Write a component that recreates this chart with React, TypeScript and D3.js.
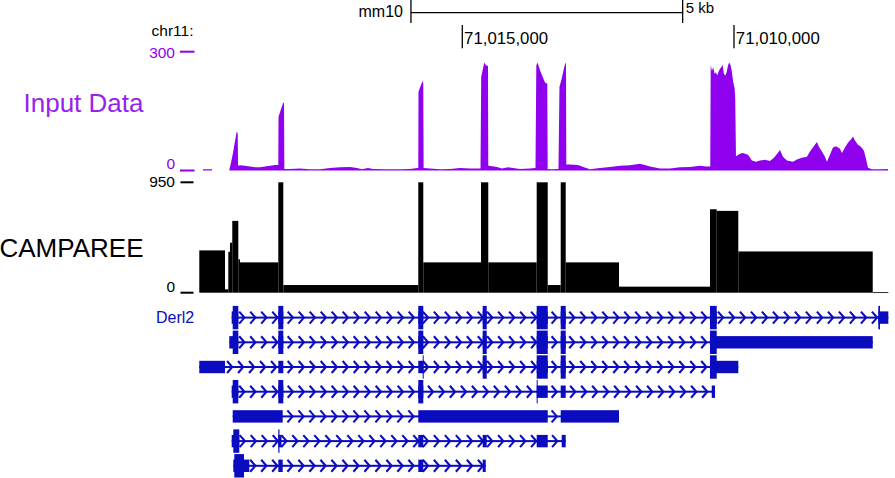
import React from "react";
import * as d3 from "d3";

// chr11 (mm10), displayed on the reverse strand: coordinates decrease left to right
const rulerTicks = [71015000, 71010000];
const scaleBar = { start: 71015945, length: 5000, label: "5 kb", assembly: "mm10" };

// Input Data coverage: [position, reads] (null = no data)
const inputCoverage: [number, number | null][] = [
  [71019771, 3], [71019606, 3], [71019500, null],
  [71019287, 2], [71019256, 20], [71019219, 45], [71019182, 75], [71019151, 98],
  [71019133, 95], [71019127, 12], [71019090, 13], [71018998, 12], [71018906, 10],
  [71018814, 8], [71018722, 8], [71018630, 10], [71018538, 12], [71018446, 14],
  [71018400, 14], [71018386, 14], [71018382, 136], [71018336, 155], [71018294, 172],
  [71018281, 170], [71018275, 4], [71018170, 4], [71017986, 5], [71017802, 3],
  [71017618, 3], [71017434, 6], [71017250, 8], [71017066, 9], [71016938, 6],
  [71016846, 3], [71016735, 6], [71016643, 4], [71016422, 3], [71016146, 3],
  [71015962, 4], [71015824, 6], [71015810, 6], [71015806, 199], [71015769, 213],
  [71015729, 226], [71015718, 220], [71015712, 6], [71015594, 5], [71015410, 3],
  [71015226, 4], [71015042, 6], [71014858, 5], [71014665, 5], [71014652, 236],
  [71014619, 258], [71014595, 273], [71014564, 266], [71014527, 264], [71014522, 12],
  [71014454, 11], [71014362, 9], [71014270, 5], [71014159, 8], [71014067, 6],
  [71013938, 4], [71013754, 5], [71013653, 6], [71013638, 265], [71013616, 273],
  [71013570, 253], [71013521, 236], [71013478, 222], [71013436, 219], [71013429, 4],
  [71013350, 3], [71013230, 4], [71013212, 211], [71013166, 235], [71013129, 258],
  [71013101, 273], [71013092, 268], [71013086, 15], [71013018, 15], [71012871, 14],
  [71012761, 8], [71012650, 3], [71012466, 6], [71012282, 9], [71012098, 12],
  [71011914, 13], [71011730, 17], [71011546, 10], [71011362, 5], [71011178, 5],
  [71010994, 8], [71010810, 9], [71010626, 12], [71010516, 10], [71010437, 10],
  [71010429, 267], [71010406, 252], [71010382, 261], [71010356, 244], [71010332, 248],
  [71010308, 240], [71010282, 250], [71010258, 257], [71010234, 261], [71010209, 267],
  [71010185, 244], [71010161, 240], [71010135, 248], [71010111, 265], [71010087, 273],
  [71010061, 265], [71010038, 248], [71010014, 223], [71009988, 207], [71009977, 180],
  [71009964, 36], [71009890, 42], [71009835, 44], [71009743, 40], [71009670, 25],
  [71009596, 22], [71009522, 25], [71009430, 27], [71009338, 24], [71009265, 32],
  [71009191, 45], [71009154, 52], [71009099, 35], [71009026, 25], [71008915, 22],
  [71008842, 28], [71008750, 32], [71008658, 35], [71008602, 48], [71008529, 62],
  [71008474, 72], [71008437, 60], [71008382, 48], [71008326, 35], [71008290, 22],
  [71008234, 40], [71008179, 58], [71008124, 61], [71008050, 55], [71008014, 44],
  [71007958, 58], [71007903, 70], [71007848, 78], [71007811, 86], [71007774, 76],
  [71007719, 65], [71007664, 60], [71007609, 50], [71007572, 30], [71007535, 7],
  [71007462, 3], [71007314, 3], [71007167, 4],
];

// CAMPAREE simulated coverage, bedGraph style: [from, to, reads]
const campareeCoverage: [number, number, number][] = [
  [71019840, 71019367, 364], [71019367, 71019306, 29], [71019306, 71019275, 352],
  [71019275, 71019233, 430], [71019233, 71019122, 618], [71019122, 71019091, 287],
  [71019091, 71018386, 261], [71018386, 71018294, 950], [71018294, 71015810, 66],
  [71015810, 71015718, 950], [71015718, 71014656, 261], [71014656, 71014522, 950],
  [71014522, 71013631, 261], [71013631, 71013428, 950], [71013428, 71013189, 66],
  [71013189, 71013097, 950], [71013097, 71012116, 261], [71012116, 71010442, 52],
  [71010442, 71010318, 718], [71010318, 71009921, 704], [71009921, 71007447, 355],
  [71007447, 71007160, 4],
];

// Derl2 transcripts: exons and coding (thick) range
type Transcript = { exons: [number, number][]; thick: [number, number] | null };
const transcripts: Transcript[] = [
  {
    exons: [[71019244, 71019122], [71018386, 71018294], [71015810, 71015718], [71014625, 71014551],
      [71013631, 71013428], [71013189, 71013097], [71010442, 71010318], [71007344, 71007160]],
    thick: [71019225, 71007313],
  },
  {
    exons: [[71019288, 71019122], [71018386, 71018294], [71015810, 71015718], [71014625, 71014551],
      [71013631, 71013428], [71013189, 71013097], [71010442, 71007447]],
    thick: [71019225, 71010318],
  },
  {
    exons: [[71019840, 71019367], [71018386, 71018294], [71015810, 71015718], [71014625, 71014551],
      [71013631, 71013428], [71013189, 71013097], [71010442, 71009921]],
    thick: [71015729, 71010318],
  },
  {
    exons: [[71019244, 71019122], [71018386, 71018294], [71015810, 71015718], [71013631, 71013428],
      [71013189, 71013097], [71010410, 71010350]],
    thick: [71019225, 71013616],
  },
  {
    exons: [[71019225, 71018305], [71015810, 71013428], [71013189, 71012116]],
    thick: null,
  },
  {
    exons: [[71019244, 71019104], [71018386, 71018327], [71015810, 71015718], [71014625, 71014551],
      [71013631, 71013428], [71013171, 71013097]],
    thick: [71019214, 71018364],
  },
  {
    exons: [[71019214, 71018920], [71018386, 71018305], [71015810, 71015718], [71014625, 71014569]],
    thick: [71019196, 71019017],
  },
];
const geneName = "Derl2";

const PURPLE = "#8f00ee";
const PURPLE_LABEL = "#9722f0";
const BLUE = "#0b0bbf";
const FONT = "'Liberation Sans', Arial, Helvetica, sans-serif";

export default function App() {
  const width = 895;
  const height = 478;

  const x = d3.scaleLinear().domain(rulerTicks).range([462.3, 734]);
  const yInput = d3.scaleLinear().domain([0, 300]).range([170.5, 51.7]);
  const yCamp = d3.scaleLinear().domain([0, 950]).range([292.7, 182.3]).clamp(true);
  const rowY = d3.scaleLinear().domain([0, transcripts.length - 1]).range([317.6, 465.8]);
  const fmt = d3.format(",");

  const inputArea = d3
    .area<[number, number | null]>()
    .defined((d) => d[1] !== null)
    .x((d) => x(d[0]))
    .y0(yInput(0))
    .y1((d) => yInput(d[1] as number))(inputCoverage) as string;

  const px = (a: number, b: number) => {
    const x1 = x(a), x2 = x(b);
    return [Math.min(x1, x2), Math.max(x1, x2)];
  };

  const thickH = 23.4;
  const thinH = 12.4;
  const barbPitch = 11;

  return (
    <svg
      width={width}
      height={height}
      style={{ position: "absolute", left: 0, top: 0, background: "#fff" }}
      fontFamily={FONT}
    >
      {/* scale bar */}
      <g stroke="#000" strokeWidth={1.3}>
        <line x1={x(scaleBar.start)} x2={x(scaleBar.start - scaleBar.length)} y1={12.6} y2={12.6} />
        <line x1={x(scaleBar.start)} x2={x(scaleBar.start)} y1={0} y2={23} />
        <line x1={x(scaleBar.start - scaleBar.length)} x2={x(scaleBar.start - scaleBar.length)} y1={0} y2={23} />
      </g>
      <text x={x(scaleBar.start) - 8} y={17.2} fontSize={16} textAnchor="end">{scaleBar.assembly}</text>
      <text x={x(scaleBar.start - scaleBar.length) + 3} y={12.7} fontSize={15}>{scaleBar.label}</text>

      {/* ruler */}
      <text x={193.5} y={36} fontSize={15.5} textAnchor="end">chr11:</text>
      {rulerTicks.map((t) => (
        <g key={t}>
          <line x1={x(t)} x2={x(t)} y1={25} y2={48.3} stroke="#000" strokeWidth={1.3} />
          <text x={x(t) + 1.8} y={44.3} fontSize={16.8}>{fmt(t)}</text>
        </g>
      ))}

      {/* Input Data track */}
      <text x={143.5} y={112.3} fontSize={26} textAnchor="end" fill={PURPLE_LABEL}>Input Data</text>
      {[300, 0].map((v) => (
        <g key={v} fill={PURPLE}>
          <text x={175} y={v === 0 ? 169.3 : 57.8} fontSize={15.5} textAnchor="end">{v}</text>
          <rect x={180} y={yInput(v) - 1} width={14.5} height={2} />
        </g>
      ))}
      <path d={inputArea} fill={PURPLE} />

      {/* CAMPAREE track */}
      <text x={143.5} y={257.3} fontSize={26} textAnchor="end">CAMPAREE</text>
      {[950, 0].map((v) => (
        <g key={v}>
          <text x={175} y={v === 0 ? 291.7 : 187.4} fontSize={15.5} textAnchor="end">{v}</text>
          <rect x={180.5} y={yCamp(v) - 1} width={13} height={2} />
        </g>
      ))}
      {campareeCoverage.map(([s, e, v], i) => {
        const [x1, x2] = px(s, e);
        return <rect key={i} x={x1} width={x2 - x1} y={yCamp(v)} height={Math.max(0.8, yCamp(0) - yCamp(v))} fill="#000" />;
      })}

      {/* gene track */}
      <text x={156} y={322.7} fontSize={16} fill={BLUE}>{geneName}</text>
      {transcripts.map((t, i) => {
        const cy = rowY(i);
        const blocks = t.exons.map(([a, b]) => px(a, b)).sort((p, q) => p[0] - q[0]);
        const first = blocks[0][0];
        const last = blocks[blocks.length - 1][1];
        const barbs: number[] = [];
        for (let k = 1; k < blocks.length; k++) {
          const x1 = blocks[k - 1][1];
          const x2 = blocks[k][0];
          const len = x2 - x1;
          if (len < 6) continue;
          const n = Math.floor((len - 4) / barbPitch) + 1;
          const start = x1 + (len - (n - 1) * barbPitch) / 2;
          for (let j = 0; j < n; j++) barbs.push(start + j * barbPitch);
        }
        const thick = t.thick ? px(t.thick[0], t.thick[1]) : null;
        return (
          <g key={i} fill={BLUE}>
            <rect x={first} width={last - first} y={cy - 1} height={2} />
            {barbs.map((b, j) => (
              <polyline
                key={j}
                points={`${b - 2.6},${cy - 6} ${b + 2.6},${cy} ${b - 2.6},${cy + 6}`}
                fill="none"
                stroke={BLUE}
                strokeWidth={2.1}
              />
            ))}
            {blocks.map(([x1, x2], j) => (
              <rect key={j} x={x1} width={x2 - x1} y={cy - thinH / 2} height={thinH} />
            ))}
            {thick &&
              blocks.map(([x1, x2], j) => {
                const a = Math.max(x1, thick[0]);
                const b = Math.min(x2, thick[1]);
                if (b <= a) return null;
                return <rect key={"t" + j} x={a} width={Math.max(1, b - a)} y={cy - thickH / 2} height={thickH} />;
              })}
          </g>
        );
      })}
    </svg>
  );
}
